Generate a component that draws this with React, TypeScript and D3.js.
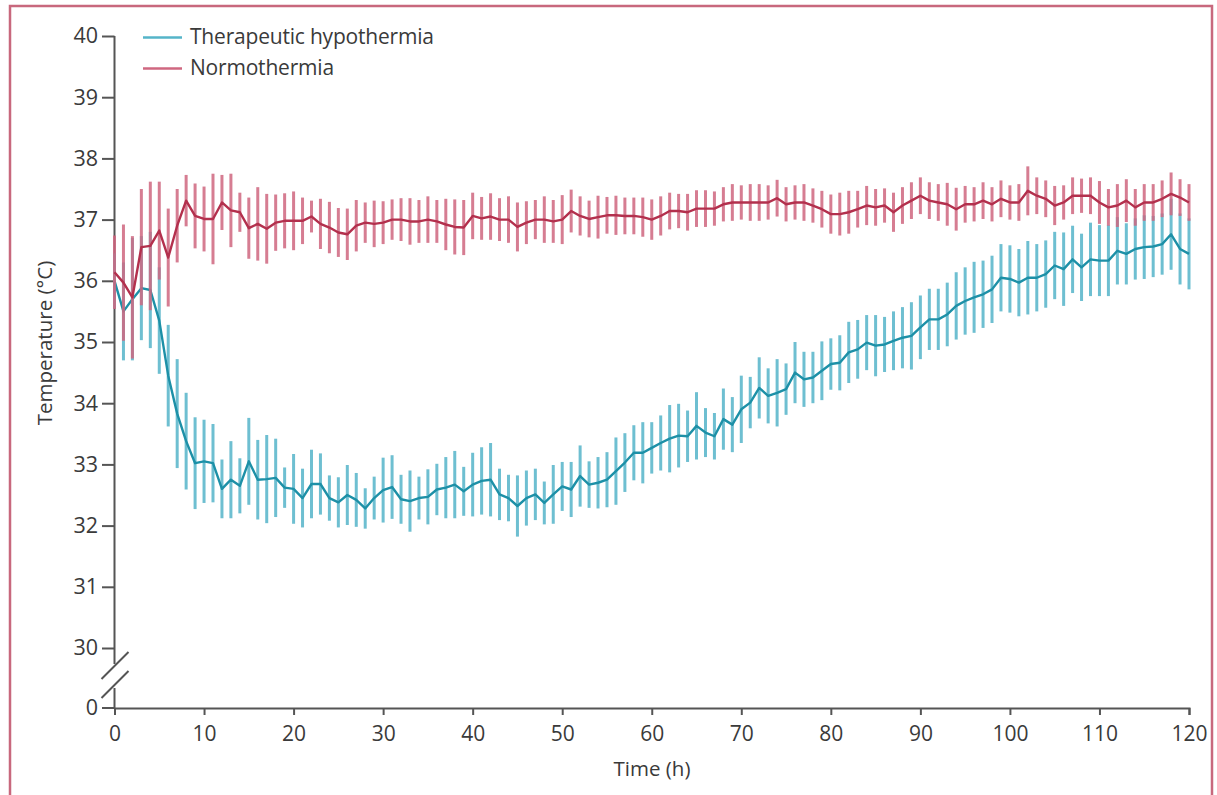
import { useRef, useEffect } from 'react';
import { select, scaleLinear, axisBottom, axisLeft, line } from 'd3';

// hourly values, hour 0 .. 120
const hypothermiaMean = [
  36.0, 35.5, 35.7, 35.88, 35.85, 35.35, 34.45, 33.83, 33.38, 33.02,
  33.05, 33.02, 32.6, 32.75, 32.65, 33.05, 32.75, 32.76, 32.78, 32.62,
  32.6, 32.45, 32.68, 32.68, 32.45, 32.38, 32.5, 32.42, 32.28, 32.45,
  32.58, 32.63, 32.43, 32.4, 32.45, 32.47, 32.59, 32.62, 32.67, 32.56,
  32.67, 32.73, 32.75, 32.51, 32.45, 32.32, 32.45, 32.51, 32.37, 32.51,
  32.64, 32.59, 32.81, 32.67, 32.7, 32.75, 32.89, 33.03, 33.19, 33.19,
  33.27, 33.35, 33.42, 33.47, 33.46, 33.63, 33.52, 33.46, 33.74, 33.65,
  33.9, 34.01, 34.25, 34.12, 34.17, 34.23, 34.5, 34.39, 34.42, 34.53,
  34.64, 34.66, 34.83, 34.88, 34.99, 34.94, 34.96, 35.02, 35.07, 35.1,
  35.24, 35.37, 35.37, 35.45, 35.59, 35.67, 35.73, 35.78, 35.86, 36.05,
  36.03, 35.97, 36.05, 36.05, 36.11, 36.25, 36.19, 36.35, 36.22, 36.35,
  36.33, 36.33, 36.49, 36.44, 36.52, 36.55, 36.56, 36.6, 36.76, 36.52,
  36.44,
];
const hypothermiaSd = [
  0.45, 0.8, 1.0, 0.85, 0.95, 0.87, 0.83, 0.89, 0.79, 0.75,
  0.68, 0.64, 0.48, 0.63, 0.45, 0.71, 0.65, 0.72, 0.64, 0.33,
  0.57, 0.48, 0.56, 0.5, 0.37, 0.41, 0.49, 0.44, 0.33, 0.35,
  0.53, 0.52, 0.4, 0.5, 0.35, 0.45, 0.42, 0.5, 0.55, 0.4,
  0.52, 0.55, 0.6, 0.42, 0.38, 0.5, 0.45, 0.42, 0.35, 0.48,
  0.4, 0.45, 0.5, 0.38, 0.42, 0.45, 0.55, 0.48, 0.45, 0.5,
  0.42, 0.45, 0.55, 0.52, 0.42, 0.55, 0.4, 0.38, 0.5, 0.45,
  0.55, 0.42, 0.5, 0.45, 0.55, 0.42, 0.5, 0.45, 0.42, 0.48,
  0.42, 0.45, 0.5, 0.48, 0.45, 0.5, 0.45, 0.48, 0.5, 0.55,
  0.52, 0.5, 0.5, 0.52, 0.55, 0.55, 0.58, 0.55, 0.55, 0.55,
  0.55, 0.55, 0.6, 0.55, 0.55, 0.55, 0.6, 0.55, 0.55, 0.6,
  0.58, 0.58, 0.55, 0.5, 0.5, 0.52, 0.5, 0.5, 0.58, 0.58,
  0.58,
];
const normothermiaMean = [
  36.14, 35.97, 35.73, 36.55, 36.57, 36.82, 36.38, 36.9, 37.31, 37.06,
  37.01, 37.01, 37.28, 37.15, 37.12, 36.86, 36.93, 36.85, 36.95, 36.98,
  36.98, 36.98, 37.05, 36.93, 36.87, 36.79, 36.76, 36.9, 36.95, 36.93,
  36.95, 37.0, 37.0, 36.97, 36.97, 37.0, 36.97, 36.92, 36.88, 36.87,
  37.06, 37.02, 37.05, 37.0, 37.0, 36.88, 36.95, 37.0, 37.0, 36.97,
  37.0, 37.14, 37.06, 37.01, 37.04, 37.07, 37.07, 37.06, 37.06, 37.04,
  37.0, 37.06, 37.14, 37.14, 37.12, 37.18, 37.18, 37.18, 37.25, 37.28,
  37.28, 37.28, 37.28, 37.28, 37.35, 37.25, 37.28, 37.28, 37.23, 37.17,
  37.09, 37.09, 37.12, 37.17, 37.23, 37.2, 37.23, 37.12, 37.23, 37.31,
  37.39, 37.31, 37.28, 37.25, 37.17, 37.25, 37.25, 37.31, 37.25, 37.34,
  37.28, 37.28, 37.47, 37.39, 37.34, 37.23, 37.28, 37.39, 37.39, 37.39,
  37.28, 37.2, 37.23, 37.31, 37.2, 37.28, 37.28, 37.34, 37.42, 37.36,
  37.28,
];
const normothermiaSd = [
  0.6, 0.95, 1.0, 0.95, 1.05, 0.8, 0.8, 0.6, 0.42, 0.53,
  0.53, 0.74, 0.45, 0.6, 0.32, 0.5, 0.6, 0.57, 0.46, 0.45,
  0.48, 0.38, 0.26, 0.41, 0.42, 0.4, 0.42, 0.42, 0.33, 0.38,
  0.35, 0.33, 0.35, 0.38, 0.35, 0.38, 0.35, 0.42, 0.45, 0.45,
  0.38, 0.35, 0.38, 0.35, 0.38, 0.4, 0.35, 0.32, 0.38, 0.35,
  0.4, 0.35, 0.32, 0.3, 0.35, 0.3, 0.32, 0.3, 0.3, 0.32,
  0.33, 0.32, 0.3, 0.28, 0.3, 0.3, 0.3, 0.28, 0.28, 0.3,
  0.28, 0.3, 0.3, 0.28, 0.3, 0.28, 0.28, 0.3, 0.28, 0.3,
  0.32, 0.35, 0.35, 0.3, 0.32, 0.3, 0.28, 0.32, 0.3, 0.3,
  0.3, 0.3, 0.3, 0.35, 0.35, 0.3, 0.28, 0.3, 0.28, 0.3,
  0.28, 0.3, 0.4, 0.3, 0.3, 0.32, 0.28, 0.3, 0.28, 0.3,
  0.35, 0.3, 0.35, 0.35, 0.3, 0.3, 0.3, 0.3, 0.35, 0.3,
  0.3,
];

const xTicks = [0, 10, 20, 30, 40, 50, 60, 70, 80, 90, 100, 110, 120];
const yTicks = [30, 31, 32, 33, 34, 35, 36, 37, 38, 39, 40];
const seriesNames = ['Therapeutic hypothermia', 'Normothermia'];

const width = 1217;
const height = 795;
const left = 114.5;
const right = 1189;
const top = 36;
const y30 = 648;
const zeroY = 708;
const axisColor = '#555';
const textColor = '#3a3a3a';
const font = "'Open Sans', sans-serif";

const colors = [
  { bar: '#55b4c9', line: '#1d90a7' },
  { bar: '#cf6780', line: '#b3304d' },
];

const App = () => {
  const d3svg = useRef(null);

  useEffect(() => {
    if (!d3svg.current) return;
    const svg = select(d3svg.current);
    svg.selectAll('*').remove();

    const x = scaleLinear().domain([0, 120]).range([left, right]);
    const y = scaleLinear().domain([30, 40]).range([y30, top]);

    // frame
    svg.append('rect')
      .attr('x', 10).attr('y', 6)
      .attr('width', 1202).attr('height', 820)
      .attr('fill', 'none')
      .attr('stroke', '#c8687d')
      .attr('stroke-width', 2.5);

    // x axis
    const xAxisGroup = svg.append('g')
      .attr('transform', `translate(0, ${zeroY})`)
      .call(axisBottom(x).tickValues(xTicks).tickSize(7).tickSizeOuter(7).tickPadding(11));
    xAxisGroup.selectAll('path, line').attr('stroke', axisColor).attr('stroke-width', 2);
    xAxisGroup.selectAll('text')
      .style('font-size', '21px').style('font-family', font).attr('fill', textColor);

    // y axis
    const yAxisGroup = svg.append('g')
      .attr('transform', `translate(${left}, 0)`)
      .call(axisLeft(y).tickValues(yTicks).tickSize(12.5).tickPadding(4));
    yAxisGroup.select('.domain').remove();
    yAxisGroup.selectAll('line').attr('stroke', axisColor).attr('stroke-width', 2);
    yAxisGroup.selectAll('text')
      .style('font-size', '21.5px').style('font-family', font).attr('fill', textColor);

    // zero tick below the break
    yAxisGroup.append('line')
      .attr('x1', -12.5).attr('x2', 0).attr('y1', zeroY).attr('y2', zeroY)
      .attr('stroke', axisColor).attr('stroke-width', 2);
    yAxisGroup.append('text')
      .attr('x', -16.5).attr('y', zeroY).attr('dy', '0.32em')
      .attr('text-anchor', 'end')
      .style('font-size', '21.5px').style('font-family', font).attr('fill', textColor)
      .text('0');

    // broken y axis line
    const axisLines = [[top, 664], [688, zeroY]];
    axisLines.forEach(([a, b]) => {
      svg.append('line')
        .attr('x1', left).attr('x2', left).attr('y1', a).attr('y2', b)
        .attr('stroke', axisColor).attr('stroke-width', 2);
    });
    [0, 19].forEach((off) => {
      svg.append('line')
        .attr('x1', left - 13).attr('y1', 679 + off)
        .attr('x2', left + 14).attr('y2', 652 + off)
        .attr('stroke', axisColor).attr('stroke-width', 2);
    });

    // axis titles
    svg.append('text')
      .attr('x', 652).attr('y', 776)
      .attr('text-anchor', 'middle')
      .style('font-size', '20.5px').style('font-family', font).attr('fill', textColor)
      .text('Time (h)');
    svg.append('text')
      .attr('transform', `translate(52, 343) rotate(-90)`)
      .attr('text-anchor', 'middle')
      .style('font-size', '20.5px').style('font-family', font).attr('fill', textColor)
      .text('Temperature (°C)');

    const series = [
      { mean: hypothermiaMean, sd: hypothermiaSd },
      { mean: normothermiaMean, sd: normothermiaSd },
    ];

    series.forEach((s, si) => {
      const g = svg.append('g');
      g.selectAll('line.err')
        .data(s.mean)
        .enter()
        .append('line')
        .attr('class', 'err')
        .attr('x1', (d, i) => x(i))
        .attr('x2', (d, i) => x(i))
        .attr('y1', (d, i) => y(d + s.sd[i]))
        .attr('y2', (d, i) => y(d - s.sd[i]))
        .attr('stroke', colors[si].bar)
        .attr('stroke-width', 3)
        .attr('opacity', 0.85);

      const path = line<number>().x((d, i) => x(i)).y((d) => y(d));
      g.append('path')
        .attr('d', path(s.mean))
        .attr('fill', 'none')
        .attr('stroke', colors[si].line)
        .attr('stroke-width', 2.4)
        .attr('stroke-linejoin', 'round');
    });

    // legend
    seriesNames.forEach((name, i) => {
      const ly = 37.5 + i * 31;
      svg.append('line')
        .attr('x1', 143).attr('x2', 182).attr('y1', ly).attr('y2', ly)
        .attr('stroke', colors[i].bar).attr('stroke-width', 2.5);
      svg.append('text')
        .attr('x', 190).attr('y', ly + 6.5)
        .style('font-size', '21px').style('font-family', font).attr('fill', textColor)
        .attr('letter-spacing', '-0.2px')
        .text(name);
    });
  }, []);

  return (
    <svg
      ref={d3svg}
      width={width}
      height={height}
      style={{ position: 'absolute', left: 0, top: 0, background: '#fff' }}
    ></svg>
  );
};

export default App;
